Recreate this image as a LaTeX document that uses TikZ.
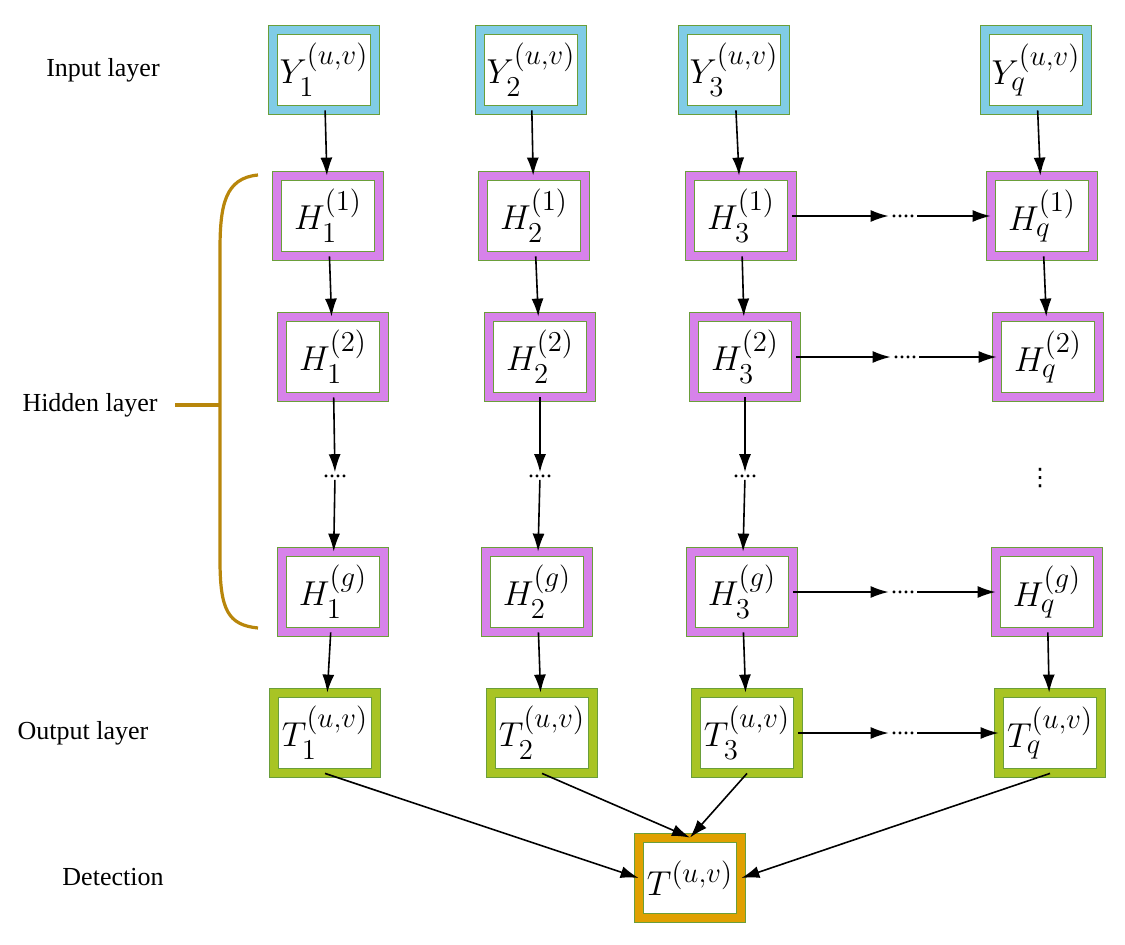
\documentclass[tikz,border=0pt]{standalone}
\usepackage{amsmath,amssymb}
\usepackage{fontspec}
\setmainfont{Liberation Serif}
\newfontfamily\symfont{DejaVu Sans}
\usepackage{xcolor}
\usepackage{tikz}
\usetikzlibrary{arrows.meta}

\definecolor{inblue}{HTML}{80CCE6}
\definecolor{hidpink}{HTML}{D782EA}
\definecolor{outgreen}{HTML}{A8C424}
\definecolor{detorange}{HTML}{E0A000}
\definecolor{rimgreen}{HTML}{6A9E3A}
\definecolor{bracegold}{HTML}{B8860B}

\tikzset{
  cell/.style={draw=rimgreen, double=#1, double distance=4pt, line width=0.4pt,
    fill=white, minimum width=51pt, minimum height=40pt, inner sep=0pt,
    font=\fontsize{19}{22}\selectfont},
  layertxt/.style={font=\fontsize{13}{15}\selectfont},
  dotstxt/.style={font=\fontsize{12}{14}\selectfont, inner sep=1pt},
  link/.style={-{Latex[length=9pt,width=6pt]}, line width=0.8pt}
}

\begin{document}
\begin{tikzpicture}[x=0.5pt, y=-0.5pt]
        \useasboundingbox (0,0) rectangle (1125,944);

        % Layer labels
        \node[layertxt] (linput) at (103,70) {Input layer};
        \node[layertxt] (lhidden) at (90,405) {Hidden layer};
        \node[layertxt] (loutput) at (83,733) {Output layer};
        \node[layertxt] (ldetect) at (113,877) {Detection};

        % Brace
        \draw[bracegold, line width=1.6pt] (258,175) .. controls (225,178) and (220,205) .. (220,250)
            -- (220,560) .. controls (220,610) and (228,625) .. (258,628);
        \draw[bracegold, line width=1.6pt] (175,405) -- (220,405);

        % Input layer
        \node[cell=inblue] (y1) at (324,70) {$Y_1^{(u,v)}$};
        \node[cell=inblue] (y2) at (531,70) {$Y_2^{(u,v)}$};
        \node[cell=inblue] (y3) at (734,70) {$Y_3^{(u,v)}$};
        \node[cell=inblue] (yq) at (1036,70) {$Y_q^{(u,v)}$};

        % Hidden layer
        \node[cell=hidpink] (h11) at (328,216) {$H_1^{(1)}$};
        \node[cell=hidpink] (h21) at (534,216) {$H_2^{(1)}$};
        \node[cell=hidpink] (h31) at (741,216) {$H_3^{(1)}$};
        \node[cell=hidpink] (hq1) at (1042,216) {$H_q^{(1)}$};

        \node[cell=hidpink] (h12) at (333,357) {$H_1^{(2)}$};
        \node[cell=hidpink] (h22) at (540,357) {$H_2^{(2)}$};
        \node[cell=hidpink] (h32) at (745,357) {$H_3^{(2)}$};
        \node[cell=hidpink] (hq2) at (1048,357) {$H_q^{(2)}$};

        \node[dotstxt] (d1) at (335,476) {....};
        \node[dotstxt] (d2) at (540,476) {....};
        \node[dotstxt] (d3) at (745,476) {....};
        \node[dotstxt] (dq) at (1040,478) {\symfont ⋮};

        \node[cell=hidpink] (h1g) at (333,592) {$H_1^{(g)}$};
        \node[cell=hidpink] (h2g) at (537,592) {$H_2^{(g)}$};
        \node[cell=hidpink] (h3g) at (742,592) {$H_3^{(g)}$};
        \node[cell=hidpink] (hqg) at (1047,592) {$H_q^{(g)}$};

        % Output layer
        \node[cell=outgreen] (t1) at (325,733) {$T_1^{(u,v)}$};
        \node[cell=outgreen] (t2) at (542,733) {$T_2^{(u,v)}$};
        \node[cell=outgreen] (t3) at (747,733) {$T_3^{(u,v)}$};
        \node[cell=outgreen] (tq) at (1050,733) {$T_q^{(u,v)}$};

        % Detection
        \node[cell=detorange] (det) at (690,878) {$T^{(u,v)}$};

        % Row dots
        \node[dotstxt] (r1) at (903,216) {....};
        \node[dotstxt] (r2) at (905,357) {....};
        \node[dotstxt] (rg) at (903,592) {....};
        \node[dotstxt] (rt) at (903,733) {....};

        % Vertical links
        \foreach \a/\b in {y1/h11,y2/h21,y3/h31,yq/hq1,
                           h11/h12,h21/h22,h31/h32,hq1/hq2,
                           h12/d1,h22/d2,h32/d3,
                           d1/h1g,d2/h2g,d3/h3g,
                           h1g/t1,h2g/t2,h3g/t3,hqg/tq}
            \draw[link] (\a) -- (\b);

        % Horizontal links
        \foreach \a/\r/\b in {h31/r1/hq1,h32/r2/hq2,h3g/rg/hqg,t3/rt/tq}{
            \draw[link] (\a) -- (\r);
            \draw[link] (\r) -- (\b);
        }

        % To detection
        \draw[link] (t1.south) -- (det.west);
        \draw[link] (t2.south) -- (det.north);
        \draw[link] (t3.south) -- (det.north);
        \draw[link] (tq.south) -- (det.east);
    \end{tikzpicture}
\end{document}
